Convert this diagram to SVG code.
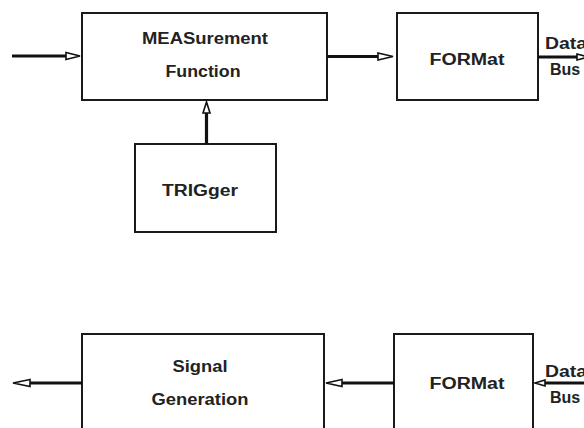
<svg xmlns="http://www.w3.org/2000/svg" width="584" height="428" viewBox="0 0 584 428">
<style>
.box{fill:#fff;stroke:#1a1a1a;stroke-width:2}
.ln{stroke:#111;stroke-width:3.2;fill:none}
.hd{fill:#fff;stroke:#111;stroke-width:1.6;stroke-linejoin:miter}
text{font-family:"Liberation Sans",Arial,sans-serif;fill:#222;text-anchor:middle;font-weight:bold}
.t{font-size:16px}
.s{font-size:16px;text-anchor:start}
</style>
<rect width="584" height="428" fill="#fff"/>
<g id="meas"><rect class="box" x="82" y="13" width="245" height="87"/>
<text class="t" x="205" y="44" textLength="126" lengthAdjust="spacingAndGlyphs">MEASurement</text>
<text class="t" x="203" y="77" textLength="75" lengthAdjust="spacingAndGlyphs">Function</text></g>
<g id="format1"><rect class="box" x="397" y="13" width="141" height="87"/>
<text class="t" x="467" y="65" textLength="75" lengthAdjust="spacingAndGlyphs">FORMat</text></g>
<g id="trigger"><rect class="box" x="135" y="144" width="141" height="88"/>
<text class="t" x="200" y="196" textLength="76" lengthAdjust="spacingAndGlyphs">TRIGger</text></g>
<g id="siggen"><rect class="box" x="82" y="334" width="242" height="100"/>
<text class="t" x="200" y="372" textLength="55" lengthAdjust="spacingAndGlyphs">Signal</text>
<text class="t" x="200" y="405" textLength="97" lengthAdjust="spacingAndGlyphs">Generation</text></g>
<g id="format2"><rect class="box" x="394" y="334" width="139" height="100"/>
<text class="t" x="467" y="389" textLength="75" lengthAdjust="spacingAndGlyphs">FORMat</text></g>
<g id="labels">
<text class="s" x="545" y="49" textLength="42" lengthAdjust="spacingAndGlyphs">Data</text><text class="s" x="550" y="75">Bus</text>
<text class="s" x="545" y="377" textLength="42" lengthAdjust="spacingAndGlyphs">Data</text><text class="s" x="550" y="403">Bus</text></g>
<g id="connectors">
<line class="ln" x1="12" y1="56" x2="67" y2="56"/><polygon class="hd" points="66,52.5 80,56 66,59.5"/>
<line class="ln" x1="327" y1="56.5" x2="379" y2="56.5"/><polygon class="hd" points="378,53 393,56.5 378,60"/>
<line class="ln" x1="538" y1="57" x2="578" y2="57"/><polygon class="hd" points="577,54 588,57 577,60"/>
<line class="ln" x1="206.5" y1="144" x2="206.5" y2="112"/><polygon class="hd" points="203,113 206.5,102 210,113"/>
<line class="ln" x1="30" y1="383" x2="82" y2="383"/><polygon class="hd" points="30,379.5 13,383 30,386.5"/>
<line class="ln" x1="342" y1="383" x2="394" y2="383"/><polygon class="hd" points="342,379.5 326,383 342,386.5"/>
<line class="ln" x1="545" y1="383" x2="584" y2="383"/><polygon class="hd" points="545,380 535,383 545,386"/>
</g>
</svg>
